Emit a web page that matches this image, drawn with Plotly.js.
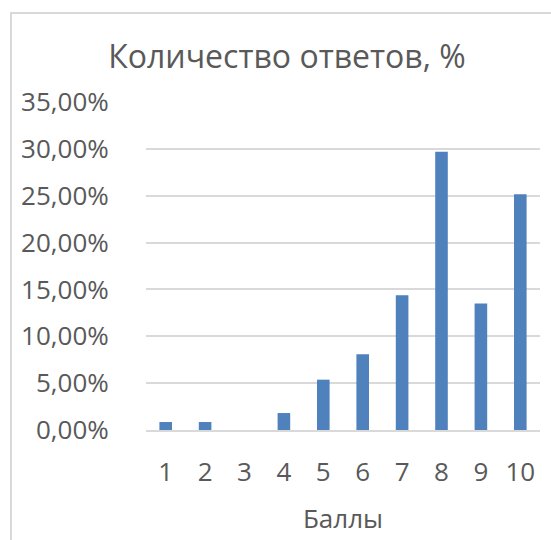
<!DOCTYPE html>
<html><head><meta charset="utf-8">
<script src="https://cdn.plot.ly/plotly-3.0.1.min.js"></script>
<style>
html,body{margin:0;padding:0;background:#fff;}
#frame{position:absolute;left:10px;top:12px;width:560px;height:560px;border-left:2px solid #D9D9D9;border-top:2px solid #D9D9D9;box-sizing:border-box;pointer-events:none;z-index:5;}
#chart{width:551px;height:540px;}
</style></head>
<body>
<div id="frame"></div>
<div id="chart"></div>
<script>
const categories = ['1','2','3','4','5','6','7','8','9','10'];
const shares = [0.0085, 0.0085, 0, 0.0181, 0.0537, 0.0808, 0.1438, 0.2968, 0.1349, 0.2516];
const yTickVals = [0, 0.05, 0.10, 0.15, 0.20, 0.25, 0.30, 0.35];
const yTickText = ['0,00%','5,00%','10,00%','15,00%','20,00%','25,00%','30,00%','35,00%'];
const titleText = 'Количество ответов, %';
const xTitleText = 'Баллы';

const font = 'Open Sans, sans-serif';
const grey = '#595959';

Plotly.newPlot('chart', [{
  type: 'bar',
  x: categories,
  y: shares,
  marker: {color: '#4F81BD', line: {color: '#4F81BD', width: 0}},
  hoverinfo: 'none'
}], {
  width: 551, height: 540,
  margin: {l: 146, r: 11, t: 102, b: 110, pad: 0},
  paper_bgcolor: '#fff', plot_bgcolor: '#fff',
  bargap: 0.68,
  showlegend: false,
  title: {text: titleText, font: {family: font, size: 32, color: grey},
          xref: 'container', yref: 'container', x: 287/551, y: 1 - 57/540,
          xanchor: 'center', yanchor: 'middle'},
  xaxis: {
    type: 'category',
    tickfont: {family: font, size: 26, color: grey},
    ticks: 'outside', ticklen: 18, tickcolor: 'rgba(0,0,0,0)',
    showline: true, linecolor: '#D9D9D9', linewidth: 2,
    showgrid: false, zeroline: false,
    title: {text: xTitleText, font: {family: font, size: 26, color: grey}, standoff: 22}
  },
  yaxis: {
    range: [0, 0.35],
    tickvals: yTickVals, ticktext: yTickText,
    tickfont: {family: font, size: 26, color: grey},
    ticks: 'outside', ticklen: 31, tickcolor: 'rgba(0,0,0,0)',
    showgrid: true, gridcolor: '#D9D9D9', gridwidth: 2,
    zeroline: false, showline: false
  }
}, {staticPlot: true});
</script>
</body></html>
